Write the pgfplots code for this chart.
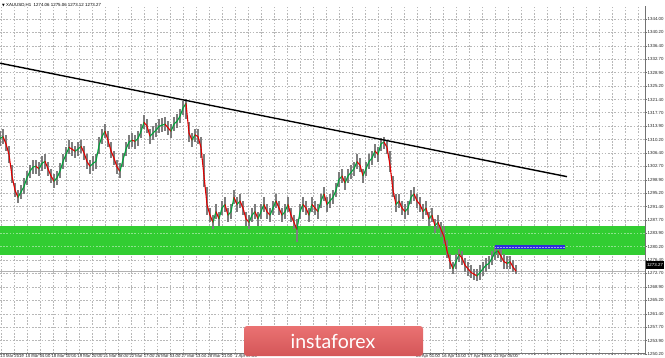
\documentclass[border=0pt]{standalone}
\usepackage{pgfplots}
\pgfplotsset{compat=1.18}
\usepackage{pgfplotstable}
\usepackage{fontspec}
\setmainfont{Liberation Sans}
\newfontfamily\symfont{DejaVu Sans}
\newfontfamily\logofont{Lato}
\definecolor{bandgreen}{RGB}{50,205,50}
\definecolor{candle}{RGB}{125,125,125}
\definecolor{logotop}{RGB}{234,114,114}
\definecolor{logobot}{RGB}{212,86,88}
\definecolor{rectblue}{RGB}{45,45,220}
\pgfplotstableread{
x ma hi lo d
0 1310.5 1312.5 1308.5 1
3 1311 1313 1309 0
6 1309 1311.5 1307 0
9 1306 1308.5 1303.5 0
12 1300 1303 1298 0
15 1296 1298 1294 0
18 1294 1296 1292.3 1
21 1295.5 1297.5 1293.5 1
24 1297 1299.5 1295 1
27 1299.5 1301.5 1297.5 1
30 1301.3 1303 1299.5 1
33 1302.5 1304.5 1300.5 1
36 1302.7 1304.5 1300.5 0
39 1302 1304 1300 1
42 1303.5 1305.5 1301.5 1
45 1304.1 1306 1302 0
48 1302 1304 1300 0
51 1300 1302 1298 0
54 1298.5 1300.5 1296.5 1
57 1299.5 1301.5 1297.5 1
60 1301.3 1303.5 1299.5 1
63 1304 1306 1302 1
66 1306 1308 1304 1
69 1308 1310 1306 0
72 1307.5 1309.5 1305.5 0
75 1306.9 1308.5 1305 1
78 1307.5 1309.5 1305.5 1
81 1308.3 1310 1306.5 0
84 1306.5 1308.5 1304.5 0
87 1304 1306 1302 0
90 1302.7 1304.5 1300.5 1
93 1303.5 1305.5 1301.5 1
96 1304.1 1306 1302 1
99 1308.5 1311 1306 1
102 1311 1313 1309 1
105 1312.5 1314.5 1310.5 0
108 1310 1312.5 1308 0
111 1307 1309.5 1305 0
114 1305 1307 1303 0
117 1302.5 1304.5 1300.5 0
120 1301.3 1303.5 1299.5 1
123 1304.5 1306.5 1302.5 1
126 1307.5 1309.5 1305.5 1
129 1309.5 1311.5 1307.5 1
132 1310 1312 1308 0
135 1309.7 1311.5 1307.5 1
138 1310.5 1312.5 1308.5 1
141 1312.5 1314.5 1310.5 1
144 1315 1317 1313 0
147 1314 1316 1312 0
150 1311.1 1313 1309 1
153 1312 1314 1310 1
156 1312.8 1314.8 1310.8 1
159 1313.9 1316 1312 1
162 1314.2 1316.2 1312.2 1
165 1314.5 1316.5 1312.5 0
168 1313.5 1315.5 1311.5 0
171 1312.5 1314.5 1310.5 1
174 1314.5 1316.5 1312.5 1
177 1315.3 1317.3 1313.3 1
180 1316.7 1318.7 1314.7 1
183 1319 1321 1317 1
186 1320.3 1321.5 1316 0
189 1312 1315 1309.5 0
192 1310 1312 1308 1
195 1311.5 1313 1309.5 0
198 1311 1313 1309 0
201 1308 1311 1305 0
204 1300 1306 1297 0
207 1292 1297 1289 0
210 1289 1291 1287 0
213 1287 1289 1285 1
216 1290 1292 1288 0
219 1288 1290 1286 1
222 1291 1293 1289 1
225 1292 1294 1290 0
228 1289 1291 1287 1
231 1290 1292 1288 1
234 1294 1296 1292 0
237 1292 1294 1290 1
240 1293 1295 1291 0
243 1291 1293 1289 0
246 1288 1290 1286 0
249 1287 1289 1285 1
252 1289 1291 1287 1
255 1290 1292 1288 0
258 1288 1290 1286 1
261 1290 1292 1288 1
264 1292 1294 1290 0
267 1290 1292 1288 0
270 1289 1291 1287 1
273 1291 1293 1289 1
276 1293 1295 1291 0
279 1291 1293 1289 0
282 1289 1291 1287 1
285 1290 1292 1288 1
288 1292 1294 1290 0
291 1289 1291 1287 0
294 1287 1289 1285 0
297 1285 1288 1281.5 1
300 1290 1292 1288 1
303 1292 1294 1290 0
306 1291 1293 1289 0
309 1289 1291 1287 1
312 1292 1294 1290 0
315 1291 1293 1289 0
318 1290 1292 1288 1
321 1293 1295 1291 1
324 1295 1297 1293 0
327 1292 1294 1290 1
330 1293 1295 1291 1
333 1294 1296 1292 1
336 1296 1298 1294 1
339 1299 1301 1297 1
342 1300 1302 1298 0
345 1298 1300 1296 1
348 1300 1302 1298 1
351 1301 1303 1299 1
354 1302 1304 1300 1
357 1304 1306 1302 0
360 1303 1305 1301 0
363 1300 1302 1298 1
366 1302 1304 1300 1
369 1304 1306 1302 1
372 1305 1307 1303 1
375 1307 1309 1305 0
378 1306 1308 1304 1
381 1309 1310.5 1307 1
384 1309.5 1310.8 1307.5 0
387 1308 1310 1306 0
390 1303 1307 1301 0
393 1296 1300 1294 0
396 1292 1295 1290 1
399 1293 1295 1291 0
402 1291 1293 1289 0
405 1290 1292 1288 1
408 1291 1293 1289 1
411 1294 1296 1292 1
414 1295 1297 1293 0
417 1293 1295 1291 0
420 1292 1294 1290 0
423 1290 1292 1288 1
426 1291 1293 1289 0
429 1288 1290 1286 1
432 1289 1291 1287 0
435 1286 1288 1284 1
438 1287 1289 1285 0
441 1285 1287 1283 0
444 1283 1286 1281 0
447 1279 1282 1277 0
450 1276 1278 1274 0
453 1274 1276 1272.5 1
456 1276 1278 1274 1
459 1278 1279.5 1276 0
462 1277 1279 1275 0
465 1275 1277 1273 0
468 1274 1276 1272 0
471 1273 1275 1271.5 0
474 1272.5 1274 1271 0
477 1272 1274 1270.5 1
480 1273 1275 1271 1
483 1274 1276 1272 1
486 1275 1277 1273 1
489 1275.5 1277.5 1274 1
492 1277 1279 1275 1
495 1278.5 1280.5 1276.5 1
498 1279 1280.3 1277 0
501 1277.5 1279.5 1276 0
504 1276 1278 1274 0
507 1275.5 1277.5 1274 1
510 1276 1277.5 1274 0
513 1274.5 1276.5 1273 0
516 1273.3 1275 1272.5 0
}\gold
\begin{document}
\begin{tikzpicture}[x=1pt,y=1pt]
\useasboundingbox (0,0) rectangle (665,357);
\fill[white] (0,0) rectangle (665,357);
\begin{axis}[
  at={(0,9)}, anchor=south west, scale only axis,
  width=645pt, height=348pt,
  xmin=0, xmax=645, ymin=1250.2, ymax=1347.64,
  axis x line*=bottom, axis y line*=right,
  axis line style={black!55, line width=0.8pt},
  tick align=outside, major tick length=1.5pt, minor tick length=0pt,
  tick style={black!55, line width=0.5pt},
  xtick={14,40,...,638},
  minor xtick={1,27,...,625},
  xticklabels={13 Mar 2019,15 Mar 04:00,18 Mar 10:00,19 Mar 20:00,21 Mar 08:00,22 Mar 17:00,26 Mar 03:00,27 Mar 13:00,28 Mar 21:00,1 Apr 07:00,,,,,,,15 Apr 01:00,16 Apr 10:00,17 Apr 19:00,22 Apr 05:00,,,,,},
  ytick={1250.2,1253.9,1257.7,1261.4,1265.2,1268.9,1272.7,1276.4,1280.2,1283.9,1287.7,1291.4,1295.2,1298.9,1302.7,1306.4,1310.2,1313.9,1317.7,1321.4,1325.2,1328.9,1332.7,1336.4,1340.2,1344.0},
  yticklabels={1250.20,1253.90,1257.70,1261.40,1265.20,1268.90,1272.70,1276.40,1280.20,1283.90,1287.70,1291.40,1295.20,1298.90,1302.70,1306.40,1310.20,1313.90,1317.70,1321.40,1325.20,1328.90,1332.70,1336.40,1340.20,1344.00},
  xticklabel style={font=\fontsize{4.2}{4.5}\selectfont, text=black!85, xshift=-2pt, yshift=0.8pt, inner sep=0.3pt, text height=3pt, text depth=0.6pt},
  yticklabel style={font=\fontsize{4.4}{5}\selectfont, text=black!85, anchor=west, inner sep=1pt},
  grid=both,
  major grid style={black!28, dash pattern=on 1.6pt off 1.6pt, line width=0.5pt},
  minor grid style={black!28, dash pattern=on 1.6pt off 1.6pt, line width=0.5pt},
  colormap={rg}{rgb255=(228,0,0) rgb255=(0,165,60)},
  point meta min=0, point meta max=1,
]
% support band
\fill[bandgreen] (axis cs:0,1277.99) rectangle (axis cs:645,1285.92);
\draw[white, opacity=0.45, dash pattern=on 1.6pt off 1.6pt, line width=0.5pt] (axis cs:0,1280.2) -- (axis cs:645,1280.2) (axis cs:0,1283.9) -- (axis cs:645,1283.9);
% bid line
\draw[black!30, line width=0.7pt] (axis cs:0,1273.27) -- (axis cs:645,1273.27);
% candles (high-low range)
\addplot[only marks, mark=*, mark size=0pt, mark options={draw=none, fill=none},
  error bars/.cd, y dir=both, y explicit,
  error mark=none, error bar style={draw=candle, line width=2.6pt}]
  table[x=x, y=ma, y error plus expr=\thisrow{hi}-\thisrow{ma}, y error minus expr=\thisrow{ma}-\thisrow{lo}]{\gold};
% indicator line
\addplot[mesh, shader=flat corner, line width=1.1pt, point meta=\thisrow{d}] table[x=x,y=ma]{\gold};
% trendline
\addplot[black, line width=1.4pt] coordinates {(0,1331.56) (567,1299.8)};
% blue rectangle
\fill[rectblue] (axis cs:495,1279.4) rectangle (axis cs:565,1280.6);
\draw[white!55!rectblue, densely dotted, line width=0.5pt] (axis cs:495,1280) -- (axis cs:565,1280);
\end{axis}
% title
\node[anchor=west, inner sep=0pt, font=\fontsize{4.4}{5}\selectfont] at (2,352) {{\symfont\fontsize{3.5}{4}\selectfont ▼}\ XAUUSD,H1\ \ 1274.06 1275.06 1273.12 1273.27};
% current price marker
\fill[black] (646,88) rectangle (664,96);
\node[text=white, font=\fontsize{4.4}{5}\selectfont, inner sep=0pt] at (655,92) {1273.27};
% logo
\shade[top color=logotop, bottom color=logobot, rounded corners=3pt] (244,1) rectangle (423,31);
\node[anchor=base, text=white, inner sep=0pt, font=\logofont\fontsize{19.5}{22}\selectfont] at (333,9) {instaforex};
\end{tikzpicture}
\end{document}
